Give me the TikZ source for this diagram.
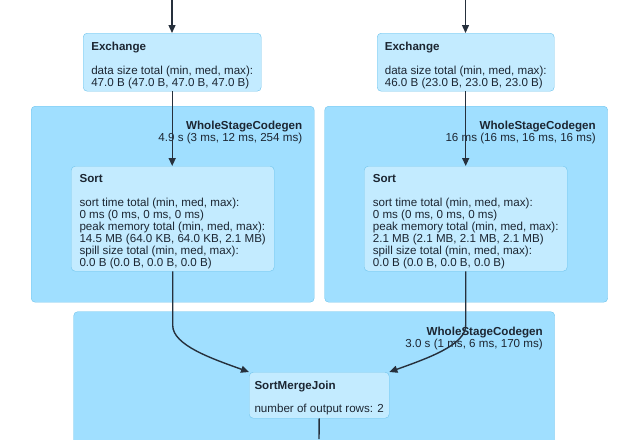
\documentclass[tikz,border=0pt]{standalone}
\usepackage{fontspec}
\setmainfont{Liberation Sans}
\usetikzlibrary{calc, positioning, arrows.meta}
\definecolor{ClusterFill}{RGB}{160, 223, 255}
\definecolor{NodeFill}{RGB}{195, 235, 255}
\definecolor{BoxLine}{RGB}{112, 196, 236}
\definecolor{EdgeInk}{RGB}{38, 48, 60}
\definecolor{TextInk}{RGB}{28, 38, 50}
\newcommand{\boxtitle}[1]{\rule{0pt}{14pt}\textbf{#1}}

\begin{document}
\begin{tikzpicture}[x=1pt, y=-1pt,
  every node/.style={font=\fontsize{11.6}{12}\selectfont, text=TextInk},
  cluster/.style={draw=BoxLine, fill=ClusterFill, rounded corners=4pt, anchor=north west, inner sep=0pt},
  box/.style={draw=BoxLine, fill=NodeFill, rounded corners=4pt, anchor=north west, align=left, inner sep=0pt},
  wsc/.style={anchor=north east, align=right, inner sep=0pt},
  edge/.style={draw=EdgeInk, line width=1.4pt, -{Triangle[length=8pt, width=7pt]}}]
\useasboundingbox (0,0) rectangle (636,439);

\node[cluster, minimum width=283pt, minimum height=196pt] (wscL) at (31,106) {};
\node[cluster, minimum width=283pt, minimum height=196pt] (wscR) at (324.5,106) {};
\node[cluster, minimum width=481pt, minimum height=160pt] (wscB) at (73.5,311.5) {};

\node[wsc] (lblL) at ($(wscL.north east)+(-12,15)$) {\textbf{WholeStageCodegen}\\4.9 s (3 ms, 12 ms, 254 ms)};
\node[wsc] (lblR) at ($(wscR.north east)+(-12,15)$) {\textbf{WholeStageCodegen}\\16 ms (16 ms, 16 ms, 16 ms)};
\node[wsc] (lblB) at ($(wscB.north east)+(-12,15)$) {\textbf{WholeStageCodegen}\\3.0 s (1 ms, 6 ms, 170 ms)};

\node[box, minimum width=178pt, minimum height=58pt] (exL) at (83,33) {\boxtitle{Exchange}\\[12pt]
data size total (min, med, max):\\47.0 B (47.0 B, 47.0 B, 47.0 B)};
\node[box, minimum width=177pt, minimum height=58pt] (exR) at (377,33) {\boxtitle{Exchange}\\[12pt]
data size total (min, med, max):\\46.0 B (23.0 B, 23.0 B, 23.0 B)};

\node[box, minimum width=203pt, minimum height=105pt] (sortL) at (71,166) {\boxtitle{Sort}\\[11.5pt]
sort time total (min, med, max):\\0 ms (0 ms, 0 ms, 0 ms)\\
peak memory total (min, med, max):\\14.5 MB (64.0 KB, 64.0 KB, 2.1 MB)\\
spill size total (min, med, max):\\0.0 B (0.0 B, 0.0 B, 0.0 B)};
\node[box, minimum width=203pt, minimum height=105pt] (sortR) at (364,166) {\boxtitle{Sort}\\[11.5pt]
sort time total (min, med, max):\\0 ms (0 ms, 0 ms, 0 ms)\\
peak memory total (min, med, max):\\2.1 MB (2.1 MB, 2.1 MB, 2.1 MB)\\
spill size total (min, med, max):\\0.0 B (0.0 B, 0.0 B, 0.0 B)};

\node[box, minimum width=140pt, minimum height=46pt] (smj) at (249,372) {\boxtitle{SortMergeJoin}\\[11pt]
number of output rows: 2};

\coordinate (inL) at (172,0);
\coordinate (inR) at (465.5,0);
\coordinate (outB) at (319,439);

\draw[edge] (inL) -- (inL |- exL.north);
\draw[edge] (inR) -- (inR |- exR.north);
\draw[edge] (exL.south) -- (exL.south |- sortL.north);
\draw[edge] (exR.south) -- (exR.south |- sortR.north);
\draw[edge] (sortL.south) -- ++(0,54) .. controls ($(sortL.south)+(0,74)$) and ($(smj.north west)+(-36,-13)$) .. (smj.north west);
\draw[edge] (sortR.south) -- ++(0,54) .. controls ($(sortR.south)+(0,74)$) and ($(smj.north east)+(36,-13)$) .. (smj.north east);
\draw[edge, -] (smj.south) -- (outB);
\end{tikzpicture}
\end{document}
